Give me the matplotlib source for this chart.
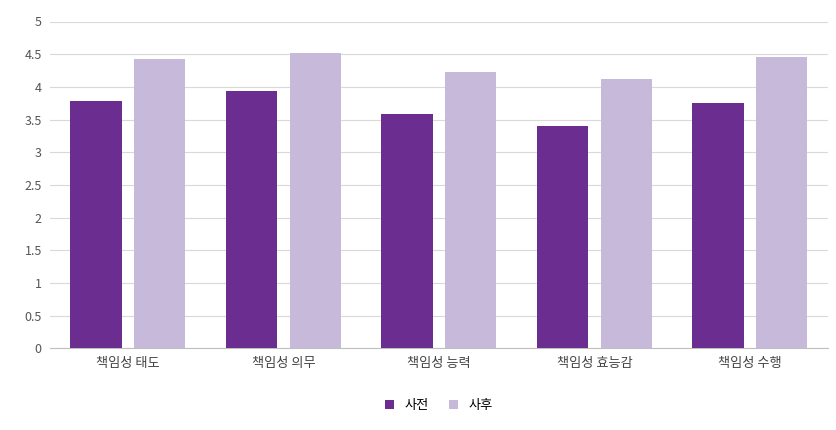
import matplotlib
matplotlib.use("Agg")
import matplotlib.pyplot as plt
import numpy as np

plt.rcParams['font.family'] = ['Noto Sans CJK KR', 'DejaVu Sans']

categories = ['책임성 태도', '책임성 의무', '책임성 능력', '책임성 효능감', '책임성 수행']
pre = [3.79, 3.94, 3.59, 3.40, 3.76]
post = [4.43, 4.52, 4.23, 4.12, 4.45]
series_names = ['사전', '사후']
yticks = [0, 0.5, 1, 1.5, 2, 2.5, 3, 3.5, 4, 4.5, 5]
ytick_labels = ['0', '0.5', '1', '1.5', '2', '2.5', '3', '3.5', '4', '4.5', '5']

fig = plt.figure(figsize=(8.36, 4.30), dpi=100)
ax = fig.add_axes([0.06, 0.19, 0.93, 0.76])
x = np.arange(len(categories))
w = 0.33
ax.bar(x - 0.205, pre, w, color='#6b2d8f', label=series_names[0], zorder=3)
ax.bar(x + 0.205, post, w, color='#c6b9d9', label=series_names[1], zorder=3)
ax.set_ylim(0, 5)
ax.set_xlim(-0.5, len(categories) - 0.5)
ax.set_yticks(yticks)
ax.set_yticklabels(ytick_labels, fontsize=9, color='#555555')
ax.set_xticks(x)
ax.set_xticklabels(categories, fontsize=9.5, color='#444444')
ax.yaxis.grid(True, color='#d9d9d9', linewidth=0.8, zorder=0)
for s in ['top', 'right', 'left']:
    ax.spines[s].set_visible(False)
ax.spines['bottom'].set_color('#bfbfbf')
ax.tick_params(length=0, pad=6)
ax.legend(loc='upper center', bbox_to_anchor=(0.5, -0.12), ncol=2, frameon=False,
          fontsize=9.5, handlelength=0.7, handleheight=0.7, columnspacing=1.5)
fig.savefig('out.png', dpi=100)
